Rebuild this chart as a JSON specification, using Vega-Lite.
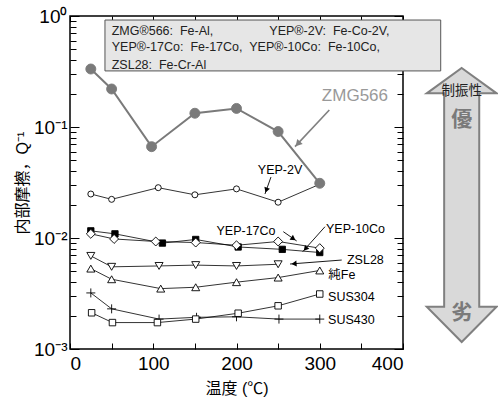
{
  "$schema": "https://vega.github.io/schema/vega-lite/v6.json",
  "width": 333,
  "height": 333,
  "autosize": {"type": "none"},
  "padding": {"left": 70, "top": 16, "right": 95, "bottom": 54},
  "config": {
    "view": {"stroke": "#000", "strokeWidth": 1.5},
    "font": "Liberation Sans, Noto Sans CJK JP",
    "axis": {"grid": false, "domain": false, "tickColor": "#000", "labelColor": "#000", "titleColor": "#000", "titleFontWeight": "normal", "labelFont": "Liberation Sans", "titleFont": "Liberation Sans, Noto Sans CJK JP"}
  },
  "datasets": {
    "series": [
      {"s": "YEP-2V", "x": 25, "q": 0.0249}, {"s": "YEP-2V", "x": 50, "q": 0.0223}, {"s": "YEP-2V", "x": 106, "q": 0.0284}, {"s": "YEP-2V", "x": 150, "q": 0.0245}, {"s": "YEP-2V", "x": 200, "q": 0.0277}, {"s": "YEP-2V", "x": 250, "q": 0.021}, {"s": "YEP-2V", "x": 300, "q": 0.0305},
      {"s": "YEP-17Co", "x": 25, "q": 0.0116}, {"s": "YEP-17Co", "x": 54, "q": 0.0109}, {"s": "YEP-17Co", "x": 111, "q": 0.009}, {"s": "YEP-17Co", "x": 151, "q": 0.0097}, {"s": "YEP-17Co", "x": 202, "q": 0.0083}, {"s": "YEP-17Co", "x": 255, "q": 0.0079}, {"s": "YEP-17Co", "x": 300, "q": 0.0074},
      {"s": "YEP-10Co", "x": 25, "q": 0.0109}, {"s": "YEP-10Co", "x": 53, "q": 0.0098}, {"s": "YEP-10Co", "x": 103, "q": 0.0093}, {"s": "YEP-10Co", "x": 151, "q": 0.0091}, {"s": "YEP-10Co", "x": 200, "q": 0.0086}, {"s": "YEP-10Co", "x": 250, "q": 0.0093}, {"s": "YEP-10Co", "x": 300, "q": 0.0081},
      {"s": "ZSL28", "x": 25, "q": 0.0069}, {"s": "ZSL28", "x": 50, "q": 0.0055}, {"s": "ZSL28", "x": 107, "q": 0.0056}, {"s": "ZSL28", "x": 151, "q": 0.0057}, {"s": "ZSL28", "x": 200, "q": 0.0056}, {"s": "ZSL28", "x": 250, "q": 0.0058},
      {"s": "純Fe", "x": 25, "q": 0.0053}, {"s": "純Fe", "x": 50, "q": 0.00425}, {"s": "純Fe", "x": 109, "q": 0.0035}, {"s": "純Fe", "x": 151, "q": 0.0036}, {"s": "純Fe", "x": 200, "q": 0.004}, {"s": "純Fe", "x": 250, "q": 0.0044}, {"s": "純Fe", "x": 300, "q": 0.0051},
      {"s": "SUS430", "x": 25, "q": 0.0032}, {"s": "SUS430", "x": 50, "q": 0.0023}, {"s": "SUS430", "x": 107, "q": 0.00186}, {"s": "SUS430", "x": 152, "q": 0.00193}, {"s": "SUS430", "x": 200, "q": 0.00195}, {"s": "SUS430", "x": 251, "q": 0.00186}, {"s": "SUS430", "x": 300, "q": 0.00186},
      {"s": "SUS304", "x": 26, "q": 0.00212}, {"s": "SUS304", "x": 51, "q": 0.00173}, {"s": "SUS304", "x": 105, "q": 0.00173}, {"s": "SUS304", "x": 151, "q": 0.00186}, {"s": "SUS304", "x": 202, "q": 0.0021}, {"s": "SUS304", "x": 250, "q": 0.00245}, {"s": "SUS304", "x": 300, "q": 0.00313},
      {"s": "ZMG566", "x": 25, "q": 0.333}, {"s": "ZMG566", "x": 50, "q": 0.22}, {"s": "ZMG566", "x": 98, "q": 0.0665}, {"s": "ZMG566", "x": 150, "q": 0.133}, {"s": "ZMG566", "x": 200, "q": 0.147}, {"s": "ZMG566", "x": 250, "q": 0.091}, {"s": "ZMG566", "x": 300, "q": 0.0311}
    ],
    "arrows": [
      {"a": "ZMG566", "x": 311.5, "q": 0.1423, "x2": 270.3, "q2": 0.0665, "hx": 273.6, "hq": 0.0706},
      {"a": "YEP-2V", "x": 241.4, "q": 0.0354, "x2": 234.2, "q2": 0.0249, "hx": 235.8, "hq": 0.02695},
      {"a": "YEP-17Co", "x": 256.2, "q": 0.0114, "x2": 272.3, "q2": 0.0094, "hx": 268.3, "hq": 0.00986},
      {"a": "YEP-10Co", "x": 306.3, "q": 0.01264, "x2": 279.5, "q2": 0.00753, "hx": 282.8, "hq": 0.008},
      {"a": "ZSL28", "x": 326.4, "q": 0.00633, "x2": 264.3, "q2": 0.00583, "hx": 269.1, "hq": 0.00587}
    ]
  },
  "layer": [
    {
      "data": {"values": [{"x": 42, "x2": 445.3, "q": 0.92, "q2": 0.32}]},
      "mark": {"type": "rect", "fill": "#e6e6e6", "stroke": "#555", "strokeWidth": 1},
      "encoding": {
        "x": {"field": "x", "type": "quantitative", "scale": {"domain": [0, 400], "nice": false, "zero": false},
          "axis": {"orient": "bottom", "values": [0, 50, 100, 150, 200, 250, 300, 350, 400], "labelExpr": "datum.value % 100 == 0 ? datum.label : ''", "tickSize": -6, "labelFontSize": 19, "labelPadding": 11, "title": "温度 (℃)", "titleFontSize": 16, "titlePadding": 7}},
        "x2": {"field": "x2"},
        "y": {"field": "q", "type": "quantitative", "scale": {"type": "log", "domain": [0.001, 1], "nice": false},
          "axis": {"orient": "left", "values": [0.001, 0.002, 0.003, 0.004, 0.005, 0.006, 0.007, 0.008, 0.009, 0.01, 0.02, 0.03, 0.04, 0.05, 0.06, 0.07, 0.08, 0.09, 0.1, 0.2, 0.3, 0.4, 0.5, 0.6, 0.7, 0.8, 0.9, 1],
            "labelExpr": "datum.value == 1 ? '10⁰' : datum.value == 0.1 ? '10⁻¹' : datum.value == 0.01 ? '10⁻²' : datum.value == 0.001 ? '10⁻³' : ''",
            "tickSize": {"condition": {"test": "indexof([1, 0.1, 0.01, 0.001], datum.value) >= 0", "value": -9}, "value": -6},
            "labelFontSize": 19, "labelPadding": 12, "labelFlush": false, "labelOverlap": false, "title": "内部摩擦，Q⁻¹", "titleFontSize": 16, "titlePadding": 3}},
        "y2": {"field": "q2"}
      }
    },
    {
      "data": {"name": "series"},
      "transform": [{"filter": "datum.s == 'ZMG566'"}],
      "mark": {"type": "line", "color": "#7a7a7a", "strokeWidth": 2},
      "encoding": {
        "x": {"field": "x", "type": "quantitative", "scale": {"domain": [0, 400], "nice": false, "zero": false},
          "axis": {"orient": "top", "values": [0, 50, 100, 150, 200, 250, 300, 350, 400], "labels": false, "tickSize": -6, "title": null}},
        "y": {"field": "q", "type": "quantitative", "scale": {"type": "log", "domain": [0.001, 1], "nice": false},
          "axis": {"orient": "right", "values": [0.001, 0.002, 0.003, 0.004, 0.005, 0.006, 0.007, 0.008, 0.009, 0.01, 0.02, 0.03, 0.04, 0.05, 0.06, 0.07, 0.08, 0.09, 0.1, 0.2, 0.3, 0.4, 0.5, 0.6, 0.7, 0.8, 0.9, 1],
            "labels": false, "title": null,
            "tickSize": {"condition": {"test": "indexof([1, 0.1, 0.01, 0.001], datum.value) >= 0", "value": -9}, "value": -6}}}
      }
    },
    {
      "data": {"name": "series"},
      "transform": [{"filter": "datum.s != 'ZMG566'"}],
      "mark": {"type": "line", "color": "#000", "strokeWidth": 0.8},
      "encoding": {
        "x": {"field": "x", "type": "quantitative", "scale": {"domain": [0, 400], "nice": false, "zero": false}, "axis": null},
        "y": {"field": "q", "type": "quantitative", "scale": {"type": "log", "domain": [0.001, 1], "nice": false}, "axis": null},
        "detail": {"field": "s"}
      }
    },
    {
      "data": {"name": "series"},
      "mark": {"type": "point", "filled": true, "strokeWidth": 0.9, "opacity": 1},
      "encoding": {
        "x": {"field": "x", "type": "quantitative", "scale": {"domain": [0, 400], "nice": false, "zero": false}, "axis": null},
        "y": {"field": "q", "type": "quantitative", "scale": {"type": "log", "domain": [0.001, 1], "nice": false}, "axis": null},
        "shape": {"field": "s", "type": "nominal", "legend": null, "scale": {"domain": ["ZMG566", "YEP-2V", "YEP-17Co", "YEP-10Co", "ZSL28", "純Fe", "SUS430", "SUS304"], "range": ["circle", "circle", "square", "diamond", "triangle-down", "triangle-up", "M-1,0H1M0,-1V1", "square"]}},
        "fill": {"field": "s", "type": "nominal", "legend": null, "scale": {"domain": ["ZMG566", "YEP-2V", "YEP-17Co", "YEP-10Co", "ZSL28", "純Fe", "SUS430", "SUS304"], "range": ["#7a7a7a", "#fff", "#000", "#fff", "#fff", "#fff", "#fff", "#fff"]}},
        "stroke": {"field": "s", "type": "nominal", "legend": null, "scale": {"domain": ["ZMG566", "YEP-2V", "YEP-17Co", "YEP-10Co", "ZSL28", "純Fe", "SUS430", "SUS304"], "range": ["#7a7a7a", "#000", "#000", "#000", "#000", "#000", "#000", "#000"]}},
        "size": {"field": "s", "type": "nominal", "legend": null, "scale": {"type": "ordinal", "domain": ["ZMG566", "YEP-2V", "YEP-17Co", "YEP-10Co", "ZSL28", "純Fe", "SUS430", "SUS304"], "range": [100, 36, 40, 80, 64, 64, 81, 42]}}
      }
    },
    {
      "data": {"name": "arrows"},
      "mark": {"type": "rule"},
      "encoding": {
        "x": {"field": "x", "type": "quantitative", "scale": {"domain": [0, 400], "nice": false, "zero": false}, "axis": null},
        "y": {"field": "q", "type": "quantitative", "scale": {"type": "log", "domain": [0.001, 1], "nice": false}, "axis": null},
        "x2": {"field": "x2"},
        "y2": {"field": "q2"},
        "color": {"condition": {"test": "datum.a == 'ZMG566'", "value": "#808080"}, "value": "#000"},
        "strokeWidth": {"condition": {"test": "datum.a == 'ZMG566'", "value": 1.6}, "value": 0.9}
      }
    },
    {
      "data": {"name": "arrows"},
      "mark": {"type": "point", "shape": "triangle-up", "filled": true, "opacity": 1},
      "encoding": {
        "x": {"field": "hx", "type": "quantitative", "scale": {"domain": [0, 400], "nice": false, "zero": false}, "axis": null},
        "y": {"field": "hq", "type": "quantitative", "scale": {"type": "log", "domain": [0.001, 1], "nice": false}, "axis": null},
        "color": {"condition": {"test": "datum.a == 'ZMG566'", "value": "#808080"}, "value": "#000"},
        "size": {"condition": {"test": "datum.a == 'ZMG566'", "value": 55}, "value": 35},
        "angle": {"condition": [
          {"test": "datum.a == 'ZMG566'", "value": 222.6},
          {"test": "datum.a == 'YEP-2V'", "value": 199.5},
          {"test": "datum.a == 'YEP-17Co'", "value": 124.8},
          {"test": "datum.a == 'YEP-10Co'", "value": 221.7}
        ], "value": 265.6}
      }
    },
    {
      "data": {"values": [
        {"t": "YEP-10Co", "x": 307.5, "q": 0.012},
        {"t": "ZSL28", "x": 332.7, "q": 0.00633},
        {"t": "純Fe", "x": 310.3, "q": 0.00464},
        {"t": "SUS304", "x": 310, "q": 0.00296},
        {"t": "SUS430", "x": 310, "q": 0.00183}
      ]},
      "mark": {"type": "text", "align": "left", "baseline": "middle", "fontSize": 12.5, "color": "#000"},
      "encoding": {
        "x": {"field": "x", "type": "quantitative", "scale": {"domain": [0, 400], "nice": false, "zero": false}, "axis": null},
        "y": {"field": "q", "type": "quantitative", "scale": {"type": "log", "domain": [0.001, 1], "nice": false}, "axis": null},
        "text": {"field": "t"}
      }
    },
    {
      "data": {"values": [
        {"t": "YEP-2V", "x": 252.3, "q": 0.041},
        {"t": "YEP-17Co", "x": 211.4, "q": 0.01156}
      ]},
      "mark": {"type": "text", "align": "center", "baseline": "middle", "fontSize": 12.5, "color": "#000"},
      "encoding": {
        "x": {"field": "x", "type": "quantitative", "scale": {"domain": [0, 400], "nice": false, "zero": false}, "axis": null},
        "y": {"field": "q", "type": "quantitative", "scale": {"type": "log", "domain": [0.001, 1], "nice": false}, "axis": null},
        "text": {"field": "t"}
      }
    },
    {
      "data": {"values": [{"t": "ZMG566", "x": 382, "q": 0.19}]},
      "mark": {"type": "text", "align": "right", "baseline": "middle", "fontSize": 17, "color": "#999"},
      "encoding": {
        "x": {"field": "x", "type": "quantitative", "scale": {"domain": [0, 400], "nice": false, "zero": false}, "axis": null},
        "y": {"field": "q", "type": "quantitative", "scale": {"type": "log", "domain": [0.001, 1], "nice": false}, "axis": null},
        "text": {"field": "t"}
      }
    },
    {
      "data": {"values": [
        {"t": "ZMG®566:\u00a0 Fe-Al,", "x": 50.1, "q": 0.732},
        {"t": "YEP®-2V:\u00a0 Fe-Co-2V,", "x": 239.4, "q": 0.732},
        {"t": "YEP®-17Co:\u00a0 Fe-17Co,\u00a0 YEP®-10Co:\u00a0 Fe-10Co,", "x": 50.1, "q": 0.526},
        {"t": "ZSL28:\u00a0 Fe-Cr-Al", "x": 50.1, "q": 0.362}
      ]},
      "mark": {"type": "text", "align": "left", "baseline": "middle", "fontSize": 12.5, "color": "#222"},
      "encoding": {
        "x": {"field": "x", "type": "quantitative", "scale": {"domain": [0, 400], "nice": false, "zero": false}, "axis": null},
        "y": {"field": "q", "type": "quantitative", "scale": {"type": "log", "domain": [0.001, 1], "nice": false}, "axis": null},
        "text": {"field": "t"}
      }
    },
    {
      "data": {"values": [{"x": 470.5, "q": 0.01983}]},
      "mark": {"type": "point", "shape": "M0,-1L0.255,-0.815L0.128,-0.815L0.128,0.742L0.255,0.742L0,1L-0.255,0.742L-0.128,0.742L-0.128,-0.815L-0.255,-0.815Z", "size": 75076, "filled": true, "fill": "#d9d9d9", "stroke": "#808080", "strokeWidth": 2, "opacity": 1},
      "encoding": {
        "x": {"field": "x", "type": "quantitative", "scale": {"domain": [0, 400], "nice": false, "zero": false}, "axis": null},
        "y": {"field": "q", "type": "quantitative", "scale": {"type": "log", "domain": [0.001, 1], "nice": false}, "axis": null}
      }
    },
    {
      "data": {"values": [{"t": "制振性", "x": 470.5, "q": 0.211}]},
      "mark": {"type": "text", "align": "center", "baseline": "middle", "fontSize": 13.5, "color": "#222", "font": "Noto Sans CJK JP"},
      "encoding": {
        "x": {"field": "x", "type": "quantitative", "scale": {"domain": [0, 400], "nice": false, "zero": false}, "axis": null},
        "y": {"field": "q", "type": "quantitative", "scale": {"type": "log", "domain": [0.001, 1], "nice": false}, "axis": null},
        "text": {"field": "t"}
      }
    },
    {
      "data": {"values": [{"t": "優", "x": 470.5, "q": 0.1156}, {"t": "劣", "x": 470.5, "q": 0.0021}]},
      "mark": {"type": "text", "align": "center", "baseline": "middle", "fontSize": 21, "fontWeight": "bold", "color": "#7a7a7a", "font": "Noto Sans CJK JP"},
      "encoding": {
        "x": {"field": "x", "type": "quantitative", "scale": {"domain": [0, 400], "nice": false, "zero": false}, "axis": null},
        "y": {"field": "q", "type": "quantitative", "scale": {"type": "log", "domain": [0.001, 1], "nice": false}, "axis": null},
        "text": {"field": "t"}
      }
    }
  ],
  "resolve": {"axis": {"x": "independent", "y": "independent"}}
}
